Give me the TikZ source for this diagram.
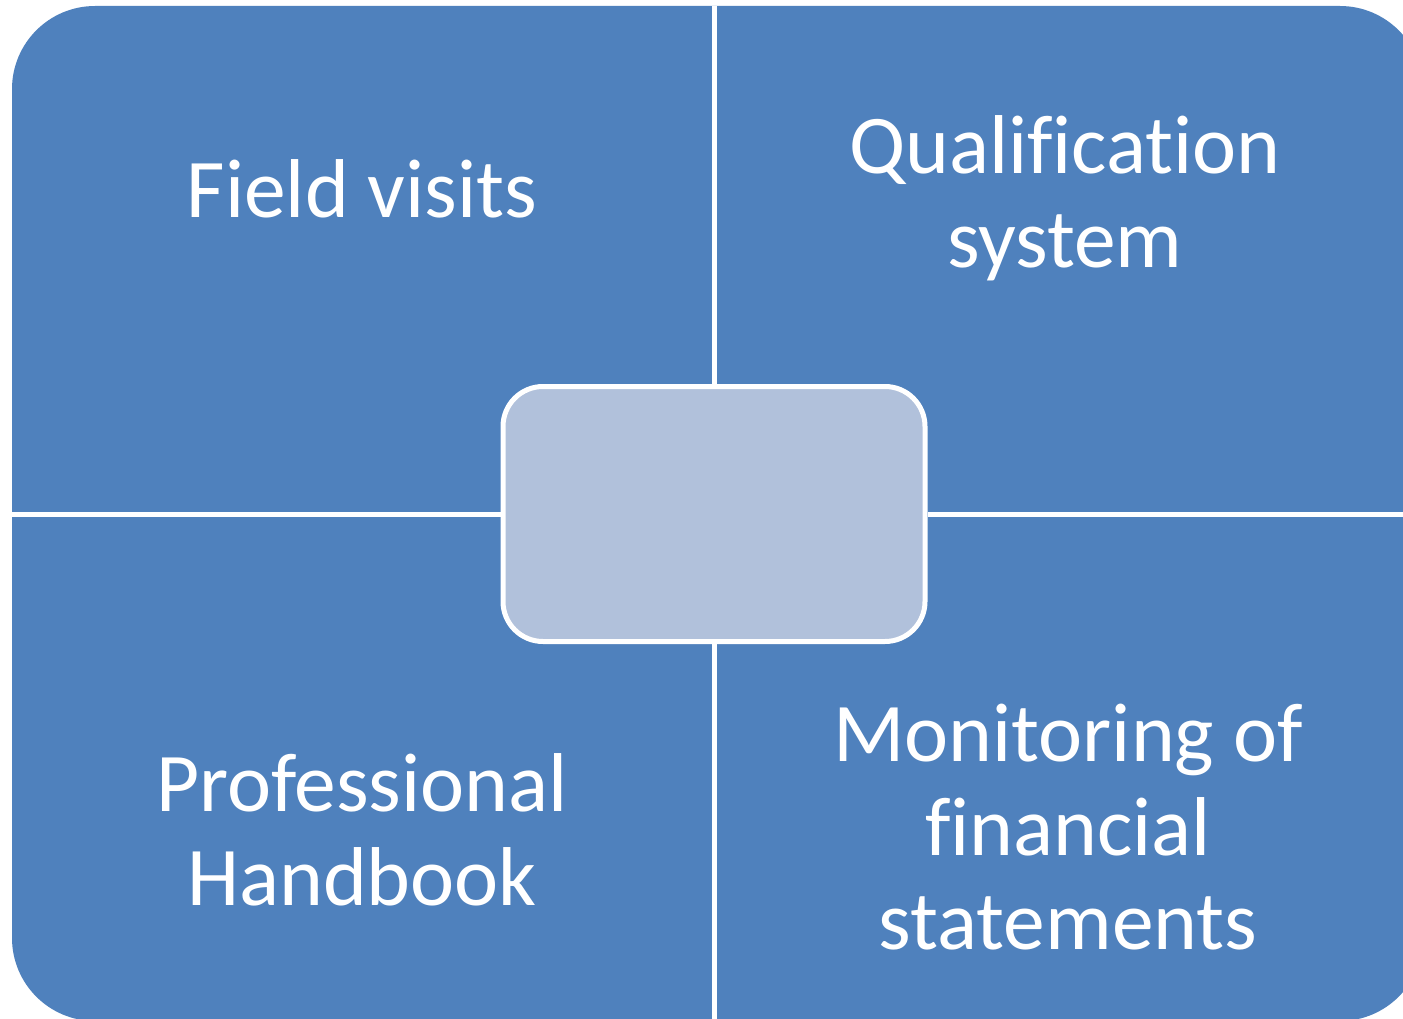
\documentclass[tikz,border=0pt]{standalone}
\usepackage{fontspec}
\setmainfont{Carlito}[Ligatures=NoCommon]
\definecolor{quadblue}{RGB}{79,129,189}
\definecolor{hubblue}{RGB}{177,193,219}

\begin{document}
\begin{tikzpicture}[x=1pt,y=-1pt,
    divider/.style={white,line width=5pt},
    quadtext/.style={text=white,align=center,inner sep=0pt,
      font=\fontsize{83.5}{94}\selectfont}]
  \useasboundingbox (0,0) rectangle (1403,1019);
  % outer matrix
  \fill[quadblue,rounded corners=83pt] (12,6) rectangle (1423,1021);
  % centre box
  \node[draw=white,line width=5pt,fill=hubblue,rounded corners=40pt,
        minimum width=422pt,minimum height=255pt,inner sep=0pt] (hub) at (714,514) {};
  \coordinate (top) at (714,6);
  \coordinate (bottom) at (714,1021);
  \coordinate (left) at (12,514);
  \coordinate (right) at (1423,514);
  \draw[divider] (top) -- (hub.north);
  \draw[divider] (hub.south) -- (bottom);
  \draw[divider] (left) -- (hub.west);
  \draw[divider] (hub.east) -- (right);

  % base = baseline of the last line
  \node[quadtext,anchor=base] (visits) at (362,218) {Field visits};
  \node[quadtext,anchor=base] (qualif) at (1065,267) {Qualification\\system};
  \node[quadtext,anchor=base] (handbook) at (362,905) {Professional\\Handbook};
  \node[quadtext,anchor=base] (monitor) at (1068,949) {Monitoring of\\financial\\statements};
\end{tikzpicture}
\end{document}
